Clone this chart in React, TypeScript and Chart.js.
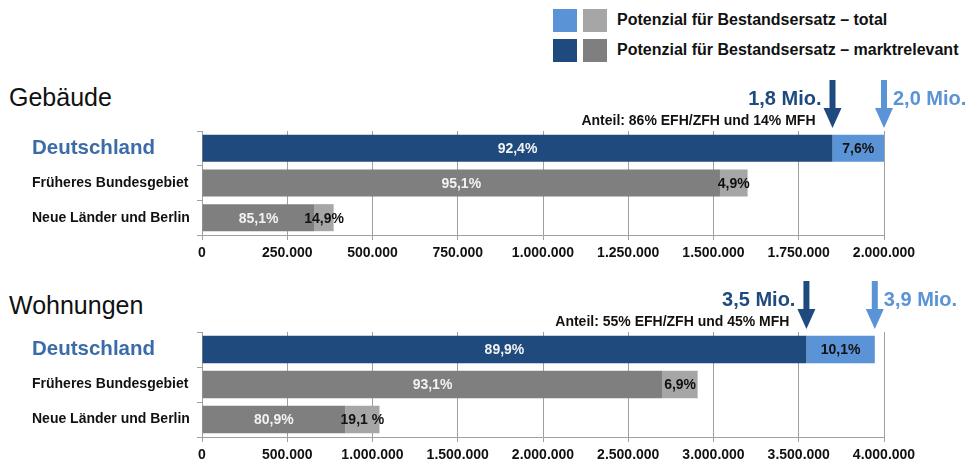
import React, { useEffect, useRef } from "react";
import { Chart, registerables } from "chart.js";

Chart.register(...registerables);

// ---------- data ----------
const categories = ["Deutschland", "Früheres Bundesgebiet", "Neue Länder und Berlin"];

// Gebäude
const gebTotal = [2000000, 1600000, 386000];
const gebMarkt = [1849000, 1519000, 330000];
const gebMarktPct = ["92,4%", "95,1%", "85,1%"];
const gebRestPct = ["7,6%", "4,9%", "14,9%"];
const gebAxisMax = 2000000;
const gebAxisStep = 250000;
const gebMarktLabel = "1,8 Mio.";
const gebTotalLabel = "2,0 Mio.";
const gebAnteil = "Anteil: 86% EFH/ZFH und 14% MFH";

// Wohnungen
const wohnTotal = [3946000, 2907000, 1041000];
const wohnMarkt = [3545000, 2701000, 840000];
const wohnMarktPct = ["89,9%", "93,1%", "80,9%"];
const wohnRestPct = ["10,1%", "6,9%", "19,1 %"];
const wohnAxisMax = 4000000;
const wohnAxisStep = 500000;
const wohnMarktLabel = "3,5 Mio.";
const wohnTotalLabel = "3,9 Mio.";
const wohnAnteil = "Anteil: 55% EFH/ZFH und 45% MFH";

const legendLabels = [
  "Potenzial für Bestandsersatz – total",
  "Potenzial für Bestandsersatz – marktrelevant",
];

// ---------- styles ----------
const FONT = "'Liberation Sans', Arial, Helvetica, sans-serif";
const DARK_BLUE = "#1f4a7e";
const LIGHT_BLUE = "#5a93d6";
const DARK_GRAY = "#7f7f7f";
const LIGHT_GRAY = "#a6a6a6";
const GRID = "#a0a0a0";
const LABEL_BLUE = "#3c6ca8";

function fmt(v: number) {
  return String(Math.round(v)).replace(/\B(?=(\d{3})+(?!\d))/g, ".");
}

type PanelProps = {
  top: number;
  height: number;
  padTop: number;
  xAxisH: number;
  total: number[];
  markt: number[];
  marktPct: string[];
  restPct: string[];
  max: number;
  step: number;
  marktLabel: string;
  totalLabel: string;
  anteil: string;
};

function Panel(p: PanelProps) {
  const ref = useRef<HTMLCanvasElement | null>(null);
  useEffect(() => {
    if (!ref.current) return;
    const rest = p.total.map((t, i) => t - p.markt[i]);
    const overlay = {
      id: "overlay",
      afterDatasetsDraw(chart: any) {
        const ctx = chart.ctx;
        ctx.save();
        ctx.font = `bold 14px ${FONT}`;
        ctx.textAlign = "center";
        ctx.textBaseline = "middle";
        [0, 1].forEach((di) => {
          const meta = chart.getDatasetMeta(di);
          const labels = di === 0 ? p.marktPct : p.restPct;
          meta.data.forEach((el: any, i: number) => {
            const { x, y, base } = el.getProps(["x", "y", "base"], true);
            ctx.fillStyle = di === 0 ? "#f2f2f2" : "#111111";
            ctx.fillText(labels[i], (x + base) / 2, y + 1);
          });
        });
        const xs = chart.scales.x;
        const top = chart.chartArea.top;
        const drawArrow = (x: number, color: string) => {
          const tip = top - 3;
          const start = tip - 48;
          const headH = 20;
          const headW = 9;
          const shaftW = 3;
          ctx.fillStyle = color;
          ctx.beginPath();
          ctx.moveTo(x - shaftW, start);
          ctx.lineTo(x + shaftW, start);
          ctx.lineTo(x + shaftW, tip - headH);
          ctx.lineTo(x + headW, tip - headH);
          ctx.lineTo(x, tip);
          ctx.lineTo(x - headW, tip - headH);
          ctx.lineTo(x - shaftW, tip - headH);
          ctx.closePath();
          ctx.fill();
        };
        const xm = xs.getPixelForValue(p.markt[0]);
        const xt = xs.getPixelForValue(p.total[0]);
        drawArrow(xm, DARK_BLUE);
        drawArrow(xt, LIGHT_BLUE);
        ctx.font = `bold 20px ${FONT}`;
        ctx.textAlign = "right";
        ctx.fillStyle = DARK_BLUE;
        ctx.fillText(p.marktLabel, xm - 11, top - 32);
        ctx.textAlign = "left";
        ctx.fillStyle = LIGHT_BLUE;
        ctx.fillText(p.totalLabel, xt + 9, top - 32);
        ctx.font = `bold 14px ${FONT}`;
        ctx.textAlign = "right";
        ctx.fillStyle = "#111111";
        ctx.fillText(p.anteil, xm - 17, top - 10);
        ctx.restore();
      },
    };
    const chart = new Chart(ref.current, {
      type: "bar",
      data: {
        labels: categories,
        datasets: [
          {
            label: legendLabels[1],
            data: p.markt,
            backgroundColor: [DARK_BLUE, DARK_GRAY, DARK_GRAY],
            borderWidth: 0,
            barPercentage: 0.78,
            categoryPercentage: 1,
          },
          {
            label: legendLabels[0],
            data: rest,
            backgroundColor: [LIGHT_BLUE, LIGHT_GRAY, LIGHT_GRAY],
            borderWidth: 0,
            barPercentage: 0.78,
            categoryPercentage: 1,
          },
        ],
      },
      options: {
        animation: false,
        responsive: false,
        indexAxis: "y",
        layout: { padding: { left: 32, right: 81, top: p.padTop, bottom: 0 } },
        plugins: { legend: { display: false }, tooltip: { enabled: false } },
        scales: {
          x: {
            stacked: true,
            min: 0,
            max: p.max,
            ticks: {
              stepSize: p.step,
              callback: (v: any) => fmt(Number(v)),
              color: "#111111",
              font: { family: FONT, size: 14, weight: "bold" },
              padding: 5,
              maxRotation: 0,
              autoSkip: false,
            },
            grid: { color: GRID, tickLength: 5 },
            border: { color: GRID },
            afterFit: (s: any) => {
              s.height = p.xAxisH;
            },
          },
          y: {
            stacked: true,
            ticks: {
              crossAlign: "far",
              color: (c: any) => (c.index === 0 ? LABEL_BLUE : "#111111"),
              font: (c: any) =>
                c.index === 0
                  ? { family: FONT, size: 20.5, weight: "bold" }
                  : { family: FONT, size: 14, weight: "bold" },
              padding: 8,
            },
            grid: { drawOnChartArea: false, tickLength: 5, color: GRID },
            border: { color: GRID },
            afterFit: (s: any) => {
              s.width = 170;
            },
          },
        },
      } as any,
      plugins: [overlay],
    });
    return () => chart.destroy();
  }, []);
  return (
    <canvas
      ref={ref}
      width={965}
      height={p.height}
      style={{ position: "absolute", left: 0, top: p.top, width: 965, height: p.height, display: "block" }}
    />
  );
}

function Title({ text, cy }: { text: string; cy: number }) {
  return (
    <div
      style={{
        position: "absolute",
        left: 9,
        top: cy - 16,
        height: 32,
        lineHeight: "32px",
        fontFamily: FONT,
        fontSize: 25,
        color: "#111",
        whiteSpace: "nowrap",
      }}
    >
      {text}
    </div>
  );
}

function LegendRow({ cy, c1, c2, text }: { cy: number; c1: string; c2: string; text: string }) {
  const sw = (left: number, color: string) => (
    <div style={{ position: "absolute", left, top: cy - 11.5, width: 24, height: 23, background: color }} />
  );
  return (
    <>
      {sw(553, c1)}
      {sw(583, c2)}
      <div
        style={{
          position: "absolute",
          left: 617,
          top: cy - 12,
          height: 24,
          lineHeight: "24px",
          fontFamily: FONT,
          fontWeight: "bold",
          fontSize: 16,
          color: "#111",
          whiteSpace: "nowrap",
        }}
      >
        {text}
      </div>
    </>
  );
}

export default function App() {
  return (
    <div style={{ position: "fixed", left: 0, top: 0, width: 965, height: 463, background: "#fff", overflow: "hidden" }}>
      <LegendRow cy={20} c1={LIGHT_BLUE} c2={LIGHT_GRAY} text={legendLabels[0]} />
      <LegendRow cy={50} c1={DARK_BLUE} c2={DARK_GRAY} text={legendLabels[1]} />
      <Title text="Gebäude" cy={97} />
      <Title text="Wohnungen" cy={305} />
      <Panel
        top={0}
        height={270}
        padTop={131}
        xAxisH={35}
        total={gebTotal}
        markt={gebMarkt}
        marktPct={gebMarktPct}
        restPct={gebRestPct}
        max={gebAxisMax}
        step={gebAxisStep}
        marktLabel={gebMarktLabel}
        totalLabel={gebTotalLabel}
        anteil={gebAnteil}
      />
      <Panel
        top={270}
        height={193}
        padTop={62}
        xAxisH={26}
        total={wohnTotal}
        markt={wohnMarkt}
        marktPct={wohnMarktPct}
        restPct={wohnRestPct}
        max={wohnAxisMax}
        step={wohnAxisStep}
        marktLabel={wohnMarktLabel}
        totalLabel={wohnTotalLabel}
        anteil={wohnAnteil}
      />
    </div>
  );
}
